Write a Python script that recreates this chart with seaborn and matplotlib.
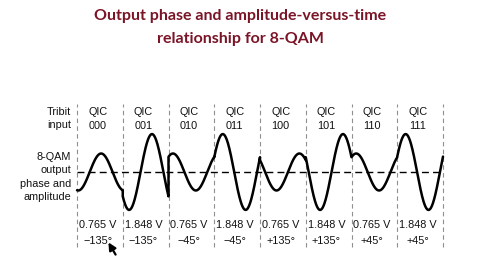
import numpy as np
import pandas as pd
import matplotlib
matplotlib.use("Agg")
import matplotlib.pyplot as plt
import seaborn as sns

# ---- data ----
tribits = ["000", "001", "010", "011", "100", "101", "110", "111"]
volt_labels = ["0.765 V", "1.848 V", "0.765 V", "1.848 V",
               "0.765 V", "1.848 V", "0.765 V", "1.848 V"]
phase_labels = ["\u2212135\u00b0", "\u2212135\u00b0", "\u221245\u00b0", "\u221245\u00b0",
                "+135\u00b0", "+135\u00b0", "+45\u00b0", "+45\u00b0"]
# amplitude and phase of each drawn symbol
drawn_amp = [1.0, 2.05, 1.0, 2.05, 1.0, 2.05, 1.0, 2.05]
drawn_phase_deg = [-100, -140, 55, 23, 140, 157, 53, 24]

# ---- build waveform (one carrier cycle per tribit) ----
t = np.linspace(0, 1, 200)
rows = []
for i, (a, ph) in enumerate(zip(drawn_amp, drawn_phase_deg)):
    y = a * np.sin(2 * np.pi * t + np.deg2rad(ph))
    for tt, yy in zip(t, y):
        rows.append((i + tt, yy))
df = pd.DataFrame(rows, columns=["x", "y"])

sns.set_theme(style="white")
plt.rcParams['font.family'] = ['DejaVu Sans']

fig = plt.figure(figsize=(4.8, 2.7), dpi=100)
fig.patch.set_facecolor("white")
ax = fig.add_axes([0, 0, 1, 1])

X0, SW, YC, SY = 77.0, 45.75, 172.0, 18.5
def X(px):
    return (px - X0) / SW
def Y(py):
    return (YC - py) / SY

ax.set_xlim(X(0), X(480))
ax.set_ylim(Y(270), Y(0))
ax.axis("off")

n = len(tribits)
ax.vlines(np.arange(n + 1), Y(247), Y(104), colors="#8f8f8f",
          linestyles=(0, (4, 3)), lw=0.8)
ax.hlines(0, 0, n, colors="black", linestyles=(0, (5, 3)), lw=1.0)

sns.lineplot(data=df, x="x", y="y", sort=False, estimator=None,
             color="black", lw=1.8, ax=ax)
ax.set_xlabel("")
ax.set_ylabel("")

lab_font = dict(family=["Liberation Sans Narrow", "Liberation Sans", "DejaVu Sans"],
                fontsize=7.8, color="#111111")

ax.text(X(71), Y(112), "Tribit", ha="right", va="center", **lab_font)
ax.text(X(71), Y(125), "input", ha="right", va="center", **lab_font)
for k, s in enumerate(["8-QAM", "output", "phase and", "amplitude"]):
    ax.text(X(71), Y(157 + 13.3 * k), s, ha="right", va="center", **lab_font)

for i in range(n):
    cx = i + 0.45
    ax.text(cx, Y(112), "QIC", ha="center", va="center", **lab_font)
    ax.text(cx, Y(126), tribits[i], ha="center", va="center", **lab_font)
    ax.text(cx, Y(225), volt_labels[i], ha="center", va="center", **lab_font)
    ax.text(cx, Y(241), phase_labels[i], ha="center", va="center", **lab_font)

# mouse cursor seen in the reference
ax.annotate("", xy=(X(107), Y(240)), xytext=(X(117), Y(257)),
            arrowprops=dict(arrowstyle="-|>", color="black", lw=1.6,
                            mutation_scale=11))

title_kw = dict(ha="center", va="center", fontsize=11.5, weight="bold",
                color="#7a1426", family=["Lato", "DejaVu Sans"])
fig.text(0.5, 1 - 16 / 270, "Output phase and amplitude-versus-time", **title_kw)
fig.text(0.5, 1 - 39 / 270, "relationship for 8-QAM", **title_kw)

fig.savefig("out.png", dpi=100, facecolor="white")
